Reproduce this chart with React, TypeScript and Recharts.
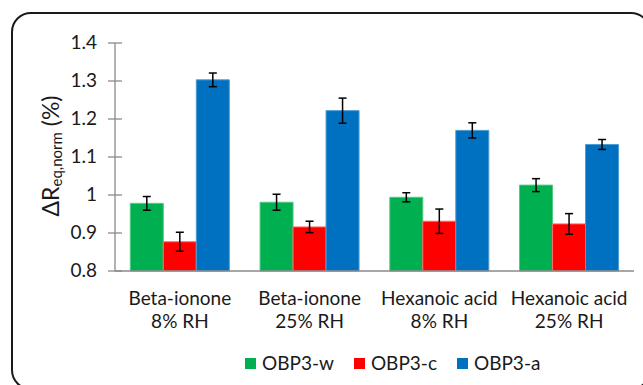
import { Bar, BarChart, ErrorBar, XAxis, YAxis, Label } from "recharts";

// values
const compounds = ["Beta-ionone", "Beta-ionone", "Hexanoic acid", "Hexanoic acid"];
const humidity = ["8% RH", "25% RH", "8% RH", "25% RH"];
const obp3w = [0.978, 0.981, 0.994, 1.026];
const obp3wErr = [0.018, 0.021, 0.012, 0.017];
const obp3c = [0.877, 0.916, 0.931, 0.924];
const obp3cErr = [0.025, 0.015, 0.032, 0.027];
const obp3a = [1.303, 1.222, 1.17, 1.133];
const obp3aErr = [0.018, 0.033, 0.02, 0.013];
const yTicks = [0.8, 0.9, 1, 1.1, 1.2, 1.3, 1.4];

const SERIES = [
  { key: "w", name: "OBP3-w", fill: "#00B050", stroke: "#4fcb85" },
  { key: "c", name: "OBP3-c", fill: "#FF0000", stroke: "#ff6a6a" },
  { key: "a", name: "OBP3-a", fill: "#0070C0", stroke: "#4d9bd3" }
];

const data = compounds.map((c, i) => ({
  compound: c,
  rh: humidity[i],
  w: obp3w[i],
  wErr: obp3wErr[i],
  c: obp3c[i],
  cErr: obp3cErr[i],
  a: obp3a[i],
  aErr: obp3aErr[i]
}));

const FONT = "Lato, 'Noto Sans', sans-serif";
const AXIS_GREY = "#8a8a8a";

function YTick(props: any) {
  const { x, y, payload } = props;
  return (
    <g>
      <line x1={x + 11} x2={x + 25} y1={y} y2={y} stroke={AXIS_GREY} strokeWidth={1.3} />
      <text x={x} y={y} dy={6} textAnchor="end" fill="#1a1a1a" fontSize={19} fontFamily={FONT}>
        {payload.value}
      </text>
    </g>
  );
}

function XTick(props: any) {
  const { x, y, index } = props;
  return (
    <text x={x} y={y} textAnchor="middle" fill="#1a1a1a" fontSize={19} fontFamily={FONT}>
      <tspan x={x} dy={34}>{compounds[index]}</tspan>
      <tspan x={x} dy={23}>{humidity[index]}</tspan>
    </text>
  );
}

function YTitle() {
  return (
    <text
      x={50}
      y={156}
      transform="rotate(-90, 50, 156)"
      textAnchor="middle"
      dominantBaseline="central"
      fill="#1a1a1a"
      fontFamily={FONT}
    >
      <tspan fontSize={23}>ΔR</tspan>
      <tspan fontSize={15} dy={6}>eq,norm</tspan>
      <tspan fontSize={23} dy={-6}> (%)</tspan>
    </text>
  );
}

function ChartLegend() {
  return (
    <div
      style={{
        position: "absolute",
        left: 245,
        top: 352,
        display: "flex",
        gap: 20,
        fontFamily: FONT,
        fontSize: 19,
        lineHeight: "22px",
        color: "#1a1a1a"
      }}
    >
      {SERIES.map((s) => (
        <div key={s.key} style={{ display: "flex", alignItems: "center", gap: 6 }}>
          <span style={{ width: 11, height: 11, background: s.fill, display: "inline-block" }} />
          <span>{s.name}</span>
        </div>
      ))}
    </div>
  );
}

export default function App() {
  return (
    <div style={{ position: "absolute", left: 0, top: 0, width: 643, height: 385, overflow: "hidden", background: "#fff" }}>
      <div
        style={{
          position: "absolute",
          left: 11,
          top: 12,
          width: 640,
          height: 378,
          border: "2px solid #1a1a1a",
          borderRadius: 20,
          boxSizing: "border-box"
        }}
      />
      <div style={{ position: "absolute", left: 0, top: 0 }}>
        <BarChart
          width={643}
          height={385}
          data={data}
          margin={{ top: 43, right: 9, bottom: 44, left: 55 }}
          barCategoryGap="11.8%"
          barGap={0}
        >
          <XAxis
            dataKey="compound"
            axisLine={{ stroke: AXIS_GREY, strokeWidth: 1.3 }}
            tickLine={false}
            tickSize={0}
            tickMargin={0}
            height={70}
            tick={<XTick />}
            interval={0}
          />
          <YAxis
            domain={[0.8, 1.4]}
            ticks={yTicks}
            width={60}
            axisLine={{ stroke: AXIS_GREY, strokeWidth: 1.3 }}
            tickLine={false}
            tickSize={7}
            tickMargin={11}
            tick={<YTick />}
            interval={0}
          >
            <Label content={<YTitle />} />
          </YAxis>
          {SERIES.map((s) => (
            <Bar
              key={s.key}
              dataKey={s.key}
              name={s.name}
              fill={s.fill}
              stroke={s.stroke}
              strokeWidth={1}
              isAnimationActive={false}
            >
              <ErrorBar dataKey={`${s.key}Err`} width={4} stroke="#000" strokeWidth={1.5} />
            </Bar>
          ))}
        </BarChart>
      </div>
      <ChartLegend />
    </div>
  );
}
